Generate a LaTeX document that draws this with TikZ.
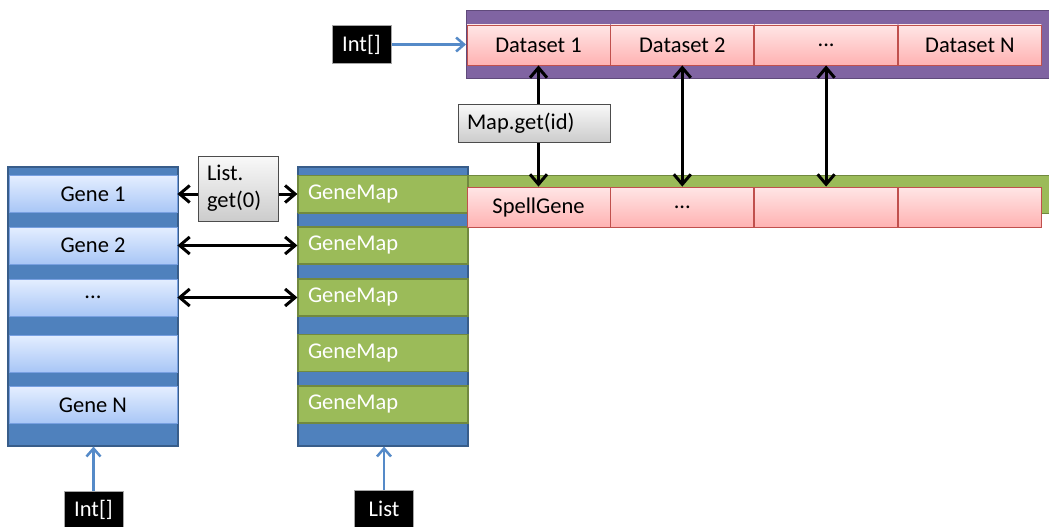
\documentclass[tikz,border=0pt]{standalone}
\usepackage{fontspec}
\setmainfont{Carlito}
\usetikzlibrary{positioning, arrows.meta}
\definecolor{listblue}{RGB}{79,129,189}
\definecolor{listedge}{RGB}{56,93,138}
\definecolor{feedblue}{RGB}{85,138,200}
\definecolor{genetop}{RGB}{228,238,255}
\definecolor{genebot}{RGB}{168,198,246}
\definecolor{geneedge}{RGB}{120,160,225}
\definecolor{mapgreen}{RGB}{155,187,89}
\definecolor{mapedge}{RGB}{113,137,63}
\definecolor{setpurple}{RGB}{128,100,162}
\definecolor{setedge}{RGB}{96,74,123}
\definecolor{pinktop}{RGB}{255,230,230}
\definecolor{pinkbot}{RGB}{255,178,178}
\definecolor{pinkedge}{RGB}{192,80,77}

\begin{document}
\begin{tikzpicture}[x=1pt, y=-1pt, font=\fontsize{22.5}{27}\selectfont,
    column/.style={rectangle, draw=listedge, line width=1.2pt, fill=listblue, minimum width=170pt, minimum height=279pt, inner sep=0pt},
    gene/.style={rectangle, draw=geneedge, line width=0.8pt, top color=genetop, bottom color=genebot, minimum width=168pt, minimum height=37pt, inner sep=0pt},
    genemap/.style={rectangle, draw=mapedge, line width=1.2pt, fill=mapgreen, text=white, minimum width=170pt, minimum height=37pt, inner sep=0pt, text width=150pt, align=left},
    dataset/.style={rectangle, draw=pinkedge, line width=0.8pt, top color=pinktop, bottom color=pinkbot, minimum width=143pt, minimum height=40pt, inner sep=0pt},
    holder/.style={rectangle, line width=1.2pt, inner sep=0pt, anchor=north west},
    callbox/.style={rectangle, draw=gray!60!black, line width=0.8pt, top color=gray!5, bottom color=gray!40, align=left, inner xsep=9pt, inner ysep=2pt},
    typebox/.style={rectangle, draw=gray!70, line width=1pt, fill=black, text=white, minimum width=59pt, minimum height=38pt, inner sep=0pt},
    link/.style={{Straight Barb[length=10pt,width=17pt]}-{Straight Barb[length=10pt,width=17pt]}, line width=3pt},
    feed/.style={-{Straight Barb[length=8pt,width=14pt]}, line width=2.5pt, draw=feedblue}
]
\useasboundingbox (0,0) rectangle (1049,527);

% Gene list
\node[column] (genelist) at (93,306.5) {};
\node[gene] (gene1) at (93,194) {Gene 1};
\node[gene] (gene2) at (93,245.5) {Gene 2};
\node[gene] (gene3) at (93,297.5) {...};
\node[gene] (gene4) at (93,353.5) {};
\node[gene] (gene5) at (93,405) {Gene N};

% GeneMap list
\node[column] (maplist) at (383,306.5) {};
\node[holder, fill=mapgreen, draw=mapedge, minimum width=751pt, minimum height=38pt] (spellbar) at (298,175) {};
\node[genemap] (map1) at (383,194) {GeneMap};
\node[genemap] (map2) at (383,245.5) {GeneMap};
\node[genemap] (map3) at (383,297.5) {GeneMap};
\node[genemap] (map4) at (383,353) {GeneMap};
\node[genemap] (map5) at (383,404.5) {GeneMap};

% Datasets
\node[holder, fill=setpurple, draw=setedge, minimum width=583pt, minimum height=68pt] (setbar) at (466,10) {};
\node[dataset] (ds1) at (538.5,45) {Dataset 1};
\node[dataset, right=0pt of ds1] (ds2) {Dataset 2};
\node[dataset, right=0pt of ds2] (ds3) {...};
\node[dataset, right=0pt of ds3] (ds4) {Dataset N};

% SpellGene row
\node[dataset] (spell1) at (538.5,207) {SpellGene};
\node[dataset, right=0pt of spell1] (spell2) {...};
\node[dataset, right=0pt of spell2] (spell3) {};
\node[dataset, right=0pt of spell3] (spell4) {};

% links
\draw[link] (gene1.east) -- (map1.west);
\draw[link] (gene2.east) -- (map2.west);
\draw[link] (gene3.east) -- (map3.west);
\draw[link] (ds1.south) -- (spell1.north);
\draw[link] (ds2.south) -- (spell2.north);
\draw[link] (ds3.south) -- (spell3.north);

% calls
\node[callbox, text width=62pt, minimum height=65pt] (listget) at (238,188.5) {List.\\get(0)};
\node[callbox, text width=134pt, minimum height=38pt] (mapget) at (534,123) {Map.get(id)};

% types
\node[typebox] (setint) at (361.5,44.5) {Int[]};
\node[typebox] (geneint) at (93.5,510) {Int[]};
\node[typebox] (maptype) at (384,509) {List};
\draw[feed] (setint.east) -- (setint.east -| setbar.west);
\draw[feed] (geneint.north) -- (geneint.north |- genelist.south);
\draw[feed] (maptype.north) -- (maptype.north |- maplist.south);

\end{tikzpicture}
\end{document}
